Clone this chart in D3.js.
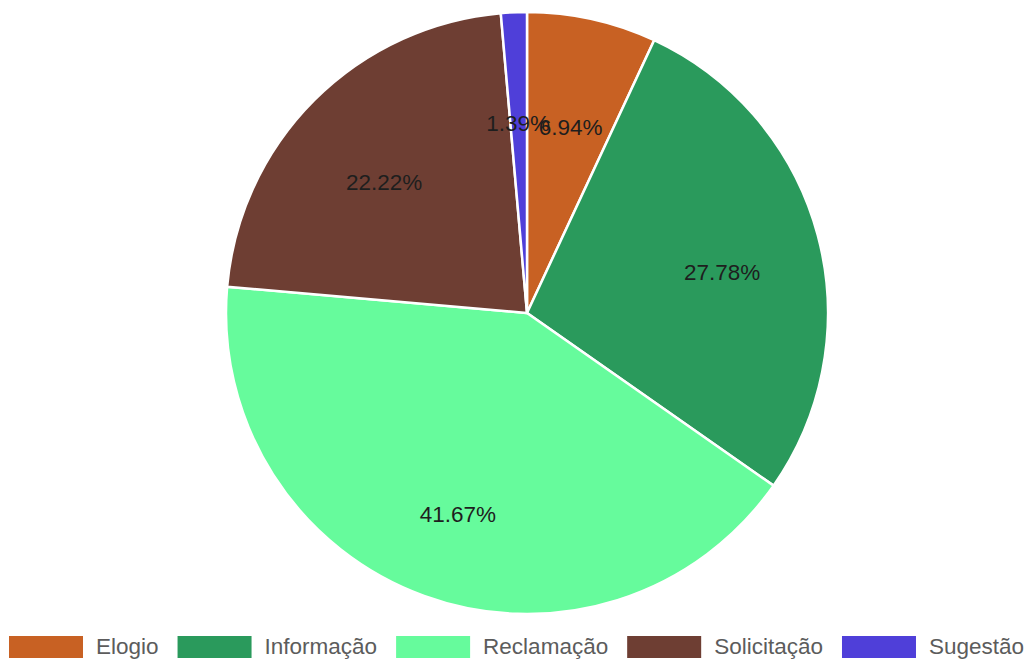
<!DOCTYPE html>
<html>
<head>
<meta charset="utf-8">
<script src="https://cdn.jsdelivr.net/npm/d3@7"></script>
<style>
  body { margin: 0; background: #fff; }
  svg { display: block; }
</style>
</head>
<body>
<div class="canvas"></div>
<script>
// data
const categories = ['Elogio', 'Informação', 'Reclamação', 'Solicitação', 'Sugestão'];
const counts = [5, 20, 30, 16, 1];
const colors = ['#c86123', '#2a9a5c', '#66fb9c', '#6e3e33', '#4f3fd9'];

const width = 1028, height = 659;
const cx = 527, cy = 313, radius = 301;

const svg = d3.select('.canvas').append('svg')
    .attr('width', width)
    .attr('height', height);

const total = d3.sum(counts);
const color = d3.scaleOrdinal().domain(categories).range(colors);

const pie = d3.pie().sort(null).value(d => d.value);
const arcs = pie(categories.map((c, i) => ({ name: c, value: counts[i] })));

const arc = d3.arc().innerRadius(0).outerRadius(radius);
const labelArc = d3.arc().innerRadius(202).outerRadius(202);

const g = svg.append('g')
    .attr('transform', `translate(${cx}, ${cy})`);

g.selectAll('path')
    .data(arcs)
    .join('path')
    .attr('d', arc)
    .attr('fill', d => color(d.data.name))
    .attr('stroke', '#fff')
    .attr('stroke-width', 2.5);

// percentage labels
g.selectAll('text.pct')
    .data(arcs)
    .join('text')
    .attr('class', 'pct')
    .attr('transform', d => {
        const [x, y] = labelArc.centroid(d);
        return `translate(${x}, ${y + 12})`;
    })
    .attr('text-anchor', 'middle')
    .attr('dominant-baseline', 'central')
    .style('font-family', 'Arial, "Liberation Sans", sans-serif')
    .style('font-size', '22.5px')
    .attr('fill', '#1e1e1e')
    .text(d => (d.data.value / total * 100).toFixed(2) + '%');

// legend
const legend = svg.append('g');
let x = 9;
categories.forEach((c, i) => {
    legend.append('rect')
        .attr('x', x)
        .attr('y', 636)
        .attr('width', 74)
        .attr('height', 22)
        .attr('fill', color(c));
    const t = legend.append('text')
        .attr('x', x + 87)
        .attr('y', 654)
        .style('font-family', 'Arial, "Liberation Sans", sans-serif')
        .style('font-size', '22.5px')
        .attr('fill', '#5c5c5c')
        .text(c);
    x = x + 87 + t.node().getComputedTextLength() + 19;
});
</script>
</body>
</html>
